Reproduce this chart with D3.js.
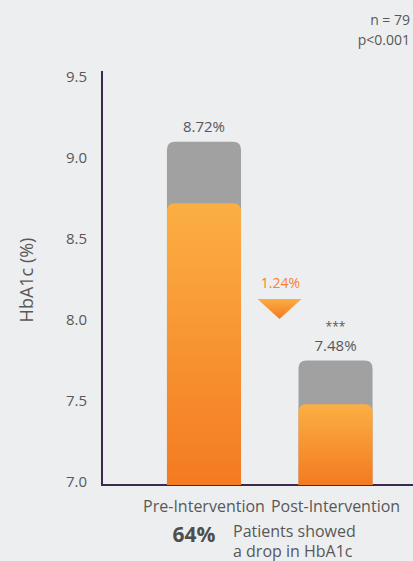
<!DOCTYPE html>
<html>
<head>
<meta charset="utf-8">
<script src="https://cdn.jsdelivr.net/npm/d3@7"></script>
<style>
  html, body { margin: 0; padding: 0; background: #edeef0; }
  svg { display: block; }
  text { font-family: "Open Sans", Lato, sans-serif; }
</style>
</head>
<body>
<svg id="chart" width="413" height="561"></svg>
<script>
// HbA1c before and after the intervention
const categories = ["Pre-Intervention", "Post-Intervention"];
const hba1c = [8.72, 7.48];            // mean HbA1c (%)
const backdrop = [9.10, 7.75];         // grey cap drawn behind each bar
const valueLabels = ["8.72%", "7.48%"];
const significance = ["", "***"];
const drop = 1.24;                     // reduction between the two means
const yTicks = [7.0, 7.5, 8.0, 8.5, 9.0, 9.5];
const noteLines = ["n = 79", "p<0.001"];
const headline = "64%";
const headlineText = ["Patients showed", "a drop in HbA1c"];

const W = 413, H = 561;
const svg = d3.select("#chart");
const axisColor = "#3b2a4e";
const textColor = "#585858";
const orangeText = "#f5842a";
const font = "'Open Sans', Lato, sans-serif";

const y = d3.scaleLinear().domain([7.0, 9.5]).range([482, 77]);
const x = d3.scaleBand().domain(categories)
  .range([127.5, 412]).paddingInner(0.437).paddingOuter(0.3);
const baseY = y(7.0) + 3;
const axisX = 102;

// gradients
const defs = svg.append("defs");
const grad = defs.append("linearGradient").attr("id", "orangeGrad")
  .attr("x1", 0).attr("y1", 0).attr("x2", 0).attr("y2", 1);
grad.append("stop").attr("offset", "0%").attr("stop-color", "#fbaf43");
grad.append("stop").attr("offset", "100%").attr("stop-color", "#f47a21");
const triGrad = defs.append("linearGradient").attr("id", "triGrad")
  .attr("x1", 0).attr("y1", 0).attr("x2", 0).attr("y2", 1);
triGrad.append("stop").attr("offset", "0%").attr("stop-color", "#fbad43");
triGrad.append("stop").attr("offset", "100%").attr("stop-color", "#f47a21");

// bar outline with rounded top corners only
function topRounded(x0, y0, w, y1, r) {
  return `M${x0},${y1} L${x0},${y0 + r} Q${x0},${y0} ${x0 + r},${y0}` +
         ` L${x0 + w - r},${y0} Q${x0 + w},${y0} ${x0 + w},${y0 + r}` +
         ` L${x0 + w},${y1} Z`;
}

// axis lines
svg.append("line").attr("x1", axisX).attr("x2", axisX)
  .attr("y1", y(9.5) - 6).attr("y2", baseY)
  .attr("stroke", axisColor).attr("stroke-width", 2);
svg.append("line").attr("x1", axisX - 1).attr("x2", W)
  .attr("y1", baseY).attr("y2", baseY)
  .attr("stroke", axisColor).attr("stroke-width", 2);

// y tick labels
const yAxis = d3.axisLeft(y).tickValues(yTicks).tickFormat(d3.format(".1f"))
  .tickSize(0).tickPadding(0);
const gy = svg.append("g").attr("transform", `translate(87,0)`).call(yAxis);
gy.select(".domain").remove();
gy.selectAll("text").attr("font-size", 15).attr("fill", textColor)
  .style("font-family", font);

// y title
svg.append("text")
  .attr("transform", `translate(33,280) rotate(-90)`)
  .attr("text-anchor", "middle").attr("font-size", 18).attr("fill", textColor)
  .text("HbA1c (%)");

// bars
const bw = x.bandwidth();
categories.forEach((c, i) => {
  const x0 = x(c);
  svg.append("path").attr("d", topRounded(x0, y(backdrop[i]), bw, baseY, 8))
    .attr("fill", "#a1a1a1");
  svg.append("path").attr("d", topRounded(x0, y(hba1c[i]), bw, baseY, 8))
    .attr("fill", "url(#orangeGrad)");
  const cx = x0 + bw / 2;
  const ly = y(backdrop[i]) - 10;
  svg.append("text").attr("x", cx).attr("y", ly).attr("text-anchor", "middle")
    .attr("font-size", 15).attr("fill", textColor).text(valueLabels[i]);
  if (significance[i]) {
    svg.append("text").attr("x", cx).attr("y", ly - 20).attr("text-anchor", "middle")
      .attr("font-size", 12).attr("fill", textColor).text(significance[i]);
  }
  // category label
  svg.append("text").attr("x", cx).attr("y", 512).attr("text-anchor", "middle")
    .attr("font-size", 16).attr("fill", textColor).text(c);
});

// reduction marker between the bars
const postX = x(categories[1]);
const tx = postX - 19;
const tipY = y(8.0) - 1;
svg.append("path")
  .attr("d", `M${tx - 22},${tipY - 20} L${tx + 22},${tipY - 20} L${tx},${tipY} Z`)
  .attr("fill", "url(#triGrad)");
svg.append("text").attr("x", tx + 1).attr("y", tipY - 31).attr("text-anchor", "middle")
  .attr("font-size", 14).attr("fill", orangeText).text(d3.format(".2f")(drop) + "%");

// sample size / p-value note
noteLines.forEach((t, i) => {
  svg.append("text").attr("x", 410).attr("y", 25 + i * 20).attr("text-anchor", "end")
    .attr("font-size", 14).attr("fill", textColor).text(t);
});

// headline stat
svg.append("text").attr("x", 194).attr("y", 542).attr("text-anchor", "middle")
  .attr("font-size", 21).attr("font-weight", 700).attr("fill", "#4e4e4e").text(headline);
headlineText.forEach((t, i) => {
  svg.append("text").attr("x", 233).attr("y", 537 + i * 20)
    .attr("font-size", 16).attr("fill", textColor).text(t);
});
</script>
</body>
</html>
